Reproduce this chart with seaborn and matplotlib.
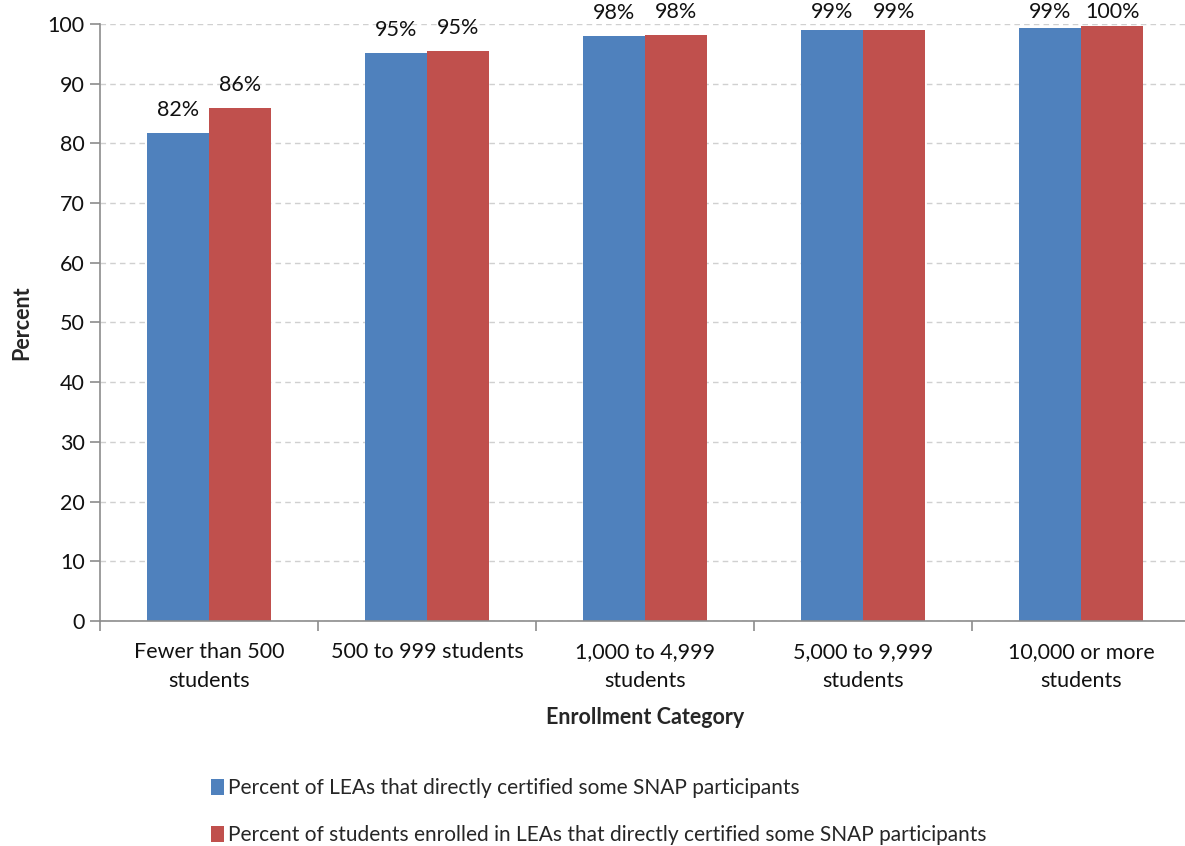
import matplotlib
matplotlib.use("Agg")
import matplotlib.pyplot as plt
import seaborn as sns
import pandas as pd
from matplotlib.patches import Patch

categories = ["Fewer than 500\nstudents", "500 to 999 students", "1,000 to 4,999\nstudents",
              "5,000 to 9,999\nstudents", "10,000 or more\nstudents"]
series_names = ["Percent of LEAs that directly certified some SNAP participants",
                "Percent of students enrolled in LEAs that directly certified some SNAP participants"]
lea_pct = [81.7, 95.1, 98.0, 99.0, 99.4]
student_pct = [86.0, 95.4, 98.2, 99.05, 99.7]
colors = ["#4F81BD", "#C0504D"]

df = pd.DataFrame({
    "category": categories * 2,
    "series": [series_names[0]] * len(categories) + [series_names[1]] * len(categories),
    "value": lea_pct + student_pct,
})

sns.set_theme(style="white")
plt.rcParams["font.family"] = ["Lato", "DejaVu Sans"]
FS = 15.5

W, H = 1185, 846
fig = plt.figure(figsize=(W / 100, H / 100), dpi=100)
ax_left, ax_bottom, ax_w, ax_h = 100, 225, 1090, 597
ax = fig.add_axes([ax_left / W, ax_bottom / H, ax_w / W, ax_h / H])

sns.barplot(data=df, x="category", y="value", hue="series", order=categories,
            hue_order=series_names, palette=colors, width=0.57, gap=0,
            saturation=1, linewidth=0, ax=ax, legend=False, errorbar=None)

ax.set_ylim(0, 100)
ax.set_xlim(-0.5, len(categories) - 0.5)

# value labels above bars; near the top of the frame they sit closer to the bar
px_per_unit = ax_h / 100.0
for cont in ax.containers:
    for bar in cont:
        v = bar.get_height()
        room_px = (100 - v) * px_per_unit + 2
        pad_px = min(13.0, room_px)
        ax.annotate(f"{v:.0f}%", xy=(bar.get_x() + bar.get_width() / 2, v),
                    xytext=(0, pad_px * 0.72), textcoords="offset points",
                    ha="center", va="bottom", fontsize=FS, color="#111111",
                    annotation_clip=False)

ax.set_yticks(range(0, 101, 10))
ax.yaxis.grid(True, linestyle=(0, (4, 3)), color="#D0D0D0", linewidth=1)
ax.set_axisbelow(True)

for side in ["top", "right"]:
    ax.spines[side].set_visible(False)
for side in ["left", "bottom"]:
    ax.spines[side].set_color("#8C8C8C")
    ax.spines[side].set_linewidth(1.2)

ax.tick_params(axis="y", which="major", direction="out", length=7, width=1.2,
               color="#8C8C8C", labelsize=FS, labelcolor="#111111", pad=4, left=True)
ax.tick_params(axis="x", which="major", length=0, labelsize=FS, labelcolor="#111111", pad=15)
for lbl in ax.get_xticklabels():
    lbl.set_linespacing(1.55)
ax.set_xticks([i - 0.5 for i in range(len(categories) + 1)], minor=True)
ax.tick_params(axis="x", which="minor", direction="out", length=7, width=1.2,
               color="#8C8C8C", bottom=True)

ax.set_xlabel("Enrollment Category", fontsize=FS, fontweight="bold", labelpad=12)
ax.set_ylabel("Percent", fontsize=FS, fontweight="bold", labelpad=11)

handles = [Patch(facecolor=c, edgecolor="none") for c in colors]
fig.legend(handles, series_names, loc="upper left", bbox_to_anchor=(211 / W, 1 - 778 / H),
           frameon=False, fontsize=15, handlelength=0.62, handleheight=0.78,
           handletextpad=0.22, labelspacing=1.3, borderaxespad=0, borderpad=0)

fig.savefig("out.png", dpi=100)
